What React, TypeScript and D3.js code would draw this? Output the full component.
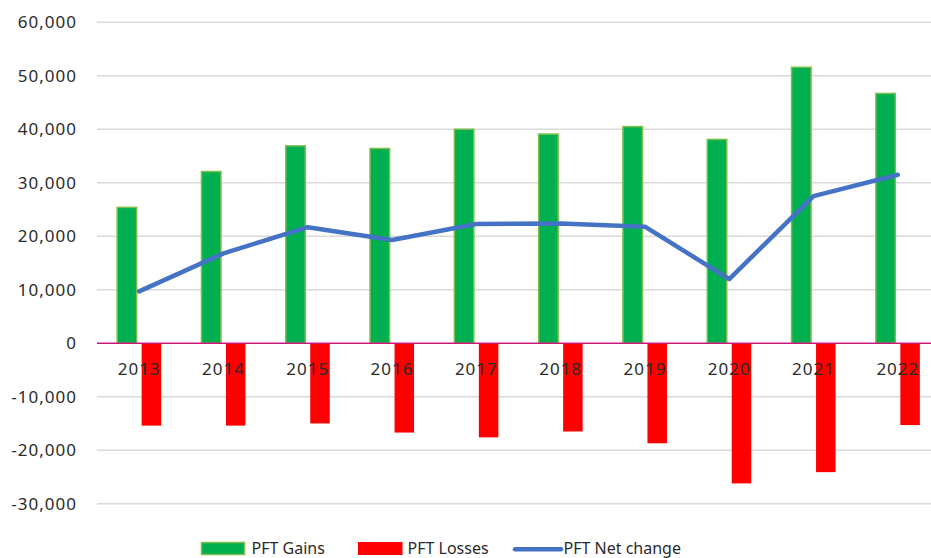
import React from "react";
import * as d3 from "d3";

const years = ["2013", "2014", "2015", "2016", "2017", "2018", "2019", "2020", "2021", "2022"];
const gains = [25400, 32100, 36900, 36400, 40000, 39100, 40500, 38100, 51600, 46700];
const losses = [-15400, -15400, -15000, -16700, -17600, -16500, -18700, -26200, -24100, -15300];
const netChange = [9700, 16800, 21700, 19300, 22300, 22400, 21800, 12000, 27500, 31500];
const yTicks = [-30000, -20000, -10000, 0, 10000, 20000, 30000, 40000, 50000, 60000];
const seriesNames = ["PFT Gains", "PFT Losses", "PFT Net change"];

const W = 931;
const H = 558;
const FONT = "'Noto Sans', 'Open Sans', sans-serif";
const GREEN = "#00B050";
const GREEN_EDGE = "#7DBE4A";
const RED = "#FF0000";
const BLUE = "#4472C4";

export default function App() {
  const x = d3.scaleBand<string>().domain(years).range([97, 940]).paddingInner(0).paddingOuter(0);
  const inner = d3.scaleBand<string>().domain(["g", "l"]).range([-22, 22]).paddingInner(0.204).paddingOuter(0);
  const y = d3.scaleLinear().domain([-30000, 60000]).range([503.7, 22.3]);
  const fmt = (v: number) => d3.format(",")(v).replace("\u2212", "-");
  const cx = (yr: string) => (x(yr) as number) + x.bandwidth() / 2;
  const line = d3
    .line<number>()
    .x((_, i) => cx(years[i]))
    .y((d) => y(d));

  return (
    <svg width={W} height={H} style={{ position: "absolute", left: 0, top: 0, background: "#fff" }}>
      {/* gridlines */}
      {yTicks.filter((t) => t !== 0).map((t) => (
        <line key={t} x1={97} x2={W} y1={y(t)} y2={y(t)} stroke="#D9D9D9" strokeWidth={1.4} />
      ))}
      {/* y tick labels */}
      {yTicks.map((t) => (
        <text
          key={"l" + t}
          x={77}
          y={y(t) + 6}
          textAnchor="end"
          fontFamily={FONT}
          fontSize={17}
          letterSpacing={1}
          fill="#2b2b2b"
        >
          {fmt(t)}
        </text>
      ))}
      {/* gains bars */}
      {years.map((yr, i) => (
        <rect
          key={"g" + yr}
          x={cx(yr) + (inner("g") as number)}
          y={y(gains[i])}
          width={inner.bandwidth()}
          height={y(0) - y(gains[i])}
          fill={GREEN}
          stroke={GREEN_EDGE}
          strokeWidth={1.5}
        />
      ))}
      {/* losses bars */}
      {years.map((yr, i) => (
        <rect
          key={"r" + yr}
          x={cx(yr) + (inner("l") as number)}
          y={y(0)}
          width={inner.bandwidth()}
          height={y(losses[i]) - y(0)}
          fill={RED}
        />
      ))}
      {/* zero axis */}
      <line x1={97} x2={W} y1={y(0)} y2={y(0)} stroke="#C8187A" strokeWidth={1.6} />
      {/* category labels */}
      {years.map((yr) => (
        <text
          key={"t" + yr}
          x={cx(yr)}
          y={374.5}
          textAnchor="middle"
          fontFamily={FONT}
          fontSize={17}
          letterSpacing={1}
          fill="#2b2b2b"
        >
          {yr}
        </text>
      ))}
      {/* net change line */}
      <path
        d={line(netChange) || ""}
        fill="none"
        stroke={BLUE}
        strokeWidth={4.5}
        strokeLinejoin="round"
        strokeLinecap="round"
      />
      {/* legend */}
      <g fontFamily={FONT} fontSize={16} fill="#2b2b2b">
        <rect x={201.5} y={542.5} width={43} height={12} fill={GREEN} stroke={GREEN_EDGE} strokeWidth={1.5} />
        <text x={251.5} y={553.5}>{seriesNames[0]}</text>
        <rect x={358} y={542} width={44.5} height={13} fill={RED} />
        <text x={407.5} y={553.5}>{seriesNames[1]}</text>
        <line x1={515} x2={561} y1={549.3} y2={549.3} stroke={BLUE} strokeWidth={4.5} strokeLinecap="round" />
        <text x={563.5} y={553.5}>{seriesNames[2]}</text>
      </g>
    </svg>
  );
}
